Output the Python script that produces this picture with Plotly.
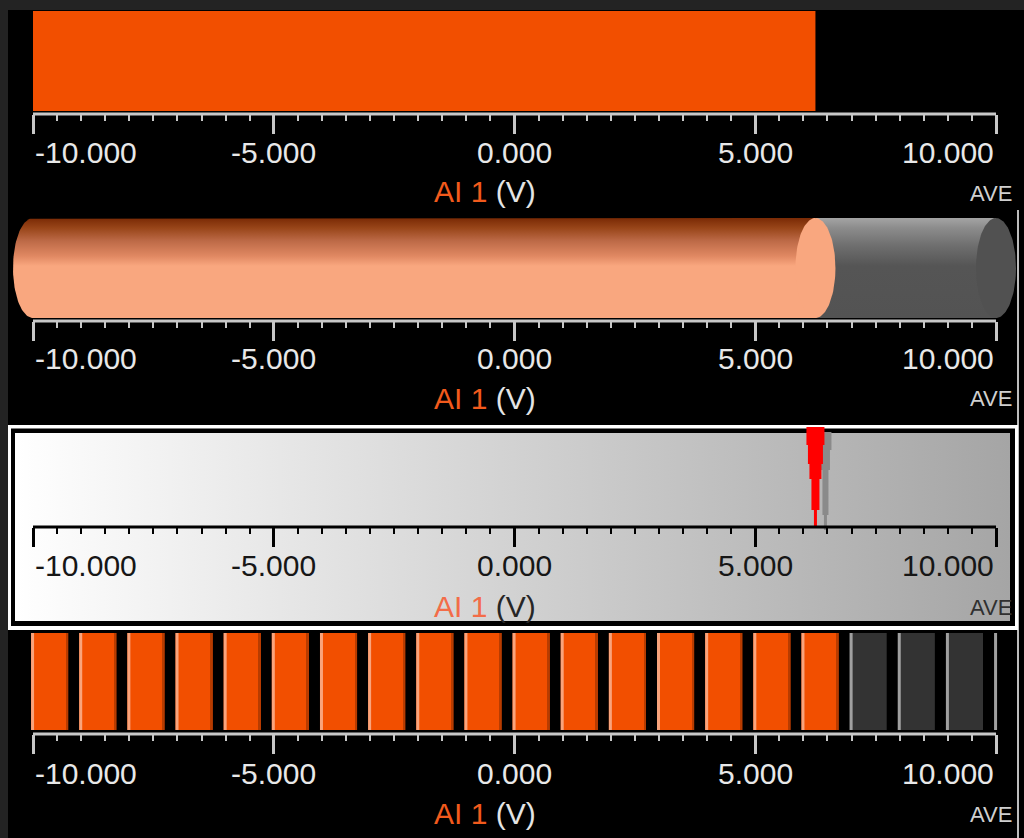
import numpy as np
import plotly.graph_objects as go

# ---------------- data ----------------
value = 6.25                      # AI 1 reading (V)
axis_min, axis_max = -10.0, 10.0
major_ticks = [-10, -5, 0, 5, 10]
tick_labels = ["-10.000", "-5.000", "0.000", "5.000", "10.000"]
minor_ticks = [v / 2 for v in range(-19, 20) if v % 10 != 0]
segment_starts = list(range(-10, 10))          # 20 LED segments, 1 V each
segment_edges = list(range(-10, 11))
channel_name = "AI 1"
unit_label = "(V)"
mode_label = "AVE"

# ---------------- geometry helpers ----------------
W, H = 1024, 838
X0_PX, X1_PX = 33, 996
K = (X1_PX - X0_PX) / (axis_max - axis_min)      # px per volt


def dx(px):
    return axis_min + (px - X0_PX) / K


def fy(py):
    return 1 - py / H


XR = [dx(0), dx(W)]
FONT = "Liberation Sans, Arial, sans-serif"

panels = [
    dict(top=11, bottom=114, axis=114, lab=153, tit=192, dark=True),
    dict(top=218, bottom=318, axis=321, lab=358, tit=398, dark=True),
    dict(top=425, bottom=630, axis=527, lab=565, tit=606, dark=False),
    dict(top=633, bottom=730, axis=734, lab=773, tit=813, dark=True),
]

fig = go.Figure()
layout = dict(width=W, height=H, margin=dict(l=0, r=0, t=0, b=0),
              paper_bgcolor="#000000", plot_bgcolor="rgba(0,0,0,0)",
              showlegend=False, barmode="overlay")
shapes, annotations = [], []

for i, p in enumerate(panels, start=1):
    sx = "" if i == 1 else str(i)
    tcol = "#c8c8c8" if p["dark"] else "#000000"
    layout["xaxis" + sx] = dict(
        domain=[0, 1], range=XR, anchor="free", position=fy(p["axis"]),
        showgrid=False, zeroline=False, showline=False, showticklabels=False,
        tickmode="array", tickvals=major_ticks, ticks="outside",
        ticklen=19, tickwidth=3, tickcolor=tcol,
        minor=dict(tickmode="array", tickvals=minor_ticks, ticks="outside",
                   ticklen=6, tickwidth=2, tickcolor=tcol, showgrid=False),
        fixedrange=True)
    layout["yaxis" + sx] = dict(domain=[fy(p["bottom"]), fy(p["top"])], range=[0, 1],
                                visible=False, anchor="free", position=0, fixedrange=True)
    # axis line from -10 to 10
    shapes.append(dict(type="line", xref="x" + sx, yref="paper",
                       x0=axis_min, x1=axis_max, y0=fy(p["axis"]), y1=fy(p["axis"]),
                       line=dict(color=tcol, width=3), layer="above"))
    lab_col = "#e8e8e8" if p["dark"] else "#161616"
    for v, t in zip(major_ticks, tick_labels):
        anchor = "left" if v == axis_min else ("right" if v == axis_max else "center")
        annotations.append(dict(x=v, xref="x" + sx, y=fy(p["lab"]), yref="paper",
                                text=t, showarrow=False, xanchor=anchor, yanchor="middle",
                                font=dict(family=FONT, size=30, color=lab_col)))
    name_col = "#f25a1c" if p["dark"] else "#f36c48"
    unit_col = "#e4e4e4" if p["dark"] else "#262626"
    annotations.append(dict(x=485 / W, xref="paper", y=fy(p["tit"]), yref="paper",
                            text=f'<span style="color:{name_col}">{channel_name}</span> {unit_label}',
                            showarrow=False, xanchor="center", yanchor="middle",
                            font=dict(family=FONT, size=30, color=unit_col)))
    annotations.append(dict(x=1014 / W, xref="paper", y=fy(p["tit"] + 1), yref="paper",
                            text=mode_label, showarrow=False, xanchor="right", yanchor="middle",
                            font=dict(family=FONT, size=22,
                                      color="#d0d0d0" if p["dark"] else "#303030")))

# frame decorations
shapes += [
    dict(type="rect", xref="paper", yref="paper", x0=0, x1=8 / W, y0=0, y1=1,
         fillcolor="#232323", line=dict(width=0), layer="below"),
    dict(type="rect", xref="paper", yref="paper", x0=0, x1=1, y0=fy(10), y1=1,
         fillcolor="#232323", line=dict(width=0), layer="below"),
    dict(type="rect", xref="paper", yref="paper", x0=1017 / W, x1=1019 / W, y0=0, y1=fy(210),
         fillcolor="#bdbdbd", line=dict(width=0), layer="below"),
    # panel 3 box: white outer border, black inner border
    dict(type="rect", xref="paper", yref="paper", x0=8 / W, x1=1018 / W, y0=fy(630), y1=fy(425),
         fillcolor="#ffffff", line=dict(width=0), layer="below"),
    dict(type="rect", xref="paper", yref="paper", x0=11 / W, x1=1015 / W, y0=fy(626), y1=fy(428.5),
         fillcolor="#000000", line=dict(width=0), layer="below"),
]

# ---------------- panel 1 : flat bar ----------------
fig.add_trace(go.Bar(orientation="h", x=[value - axis_min], base=[axis_min], y=[0.515],
                     width=[0.97], marker=dict(color="#f24f00", line=dict(width=0)),
                     xaxis="x", yaxis="y", hoverinfo="skip"))

# ---------------- panel 2 : cylinder ----------------
rx = 20 / K
t = np.linspace(np.pi / 2, 3 * np.pi / 2, 60)
left_x = list(axis_min + rx * np.cos(t))
left_y = list(0.5 + 0.5 * np.sin(t))
orange_scale = [[0, "#f9a77f"], [0.52, "#f9a77f"], [0.62, "#e08862"], [0.77, "#bd6a47"],
                [0.9, "#984519"], [1, "#7a2a05"]]
gray_scale = [[0, "#535353"], [0.52, "#555555"], [0.72, "#6e6e6e"], [0.9, "#8c8c8c"], [1, "#a4a4a4"]]
nofill_line = dict(width=0, color="rgba(0,0,0,0)")

# gray remainder body
fig.add_trace(go.Scatter(x=[value, axis_max, axis_max, value, value], y=[1, 1, 0, 0, 1],
                         fill="toself", mode="lines", line=nofill_line,
                         fillgradient=dict(type="vertical", colorscale=gray_scale),
                         xaxis="x2", yaxis="y2", hoverinfo="skip"))
# gray end cap
tt = np.linspace(0, 2 * np.pi, 120)
fig.add_trace(go.Scatter(x=list(axis_max + rx * np.cos(tt)), y=list(0.5 + 0.5 * np.sin(tt)),
                         fill="toself", mode="lines", line=nofill_line, fillcolor="#515151",
                         xaxis="x2", yaxis="y2", hoverinfo="skip"))
# orange body with rounded left end
fig.add_trace(go.Scatter(x=[value] + left_x + [value, value], y=[1] + left_y + [0, 1],
                         fill="toself", mode="lines", line=nofill_line,
                         fillgradient=dict(type="vertical", colorscale=orange_scale),
                         xaxis="x2", yaxis="y2", hoverinfo="skip"))
# orange front face at the value
fig.add_trace(go.Scatter(x=list(value + rx * np.cos(tt)), y=list(0.5 + 0.5 * np.sin(tt)),
                         fill="toself", mode="lines", line=nofill_line, fillcolor="#f9a77f",
                         xaxis="x2", yaxis="y2", hoverinfo="skip"))

# ---------------- panel 3 : needle meter ----------------
p3 = panels[2]
h3 = p3["bottom"] - p3["top"]


def py3(py):
    return (p3["bottom"] - py) / h3


bx0, bx1 = dx(15), dx(1010)
by0, by1 = py3(621), py3(433)
fig.add_trace(go.Scatter(x=[bx0, bx1, bx1, bx0, bx0], y=[by0, by0, by1, by1, by0],
                         fill="toself", mode="lines", line=nofill_line,
                         fillgradient=dict(type="horizontal",
                                           colorscale=[[0, "#ffffff"], [1, "#a5a5a5"]]),
                         xaxis="x3", yaxis="y3", hoverinfo="skip"))

needle_profile = [(427, 445, 18), (445, 464, 15), (464, 479, 12), (479, 510, 8), (510, 527, 3)]
shadow_profile = [(432, 450, 12), (450, 470, 9), (470, 515, 6), (515, 530, 3)]


def needle(center, profile):
    xr, yr = [], []
    for (a, b, w) in profile:
        hw = w / 2 / K
        xr += [center + hw, center + hw]
        yr += [py3(a), py3(b)]
    xl, yl = [], []
    for (a, b, w) in reversed(profile):
        hw = w / 2 / K
        xl += [center - hw, center - hw]
        yl += [py3(b), py3(a)]
    return xr + xl + [xr[0]], yr + yl + [yr[0]]


sx_, sy_ = needle(value + 10 / K, shadow_profile)
fig.add_trace(go.Scatter(x=sx_, y=sy_, fill="toself", mode="lines", line=nofill_line,
                         fillcolor="#8a8a8a", xaxis="x3", yaxis="y3", hoverinfo="skip"))
nx_, ny_ = needle(value, needle_profile)
fig.add_trace(go.Scatter(x=nx_, y=ny_, fill="toself", mode="lines", line=nofill_line,
                         fillcolor="#ff0000", xaxis="x3", yaxis="y3", hoverinfo="skip"))

# ---------------- panel 4 : LED segments ----------------
lit = [s < value for s in segment_starts]
seg_colors = ["#f24f00" if l else "#333333" for l in lit]
fig.add_trace(go.Bar(x=segment_starts, y=[1] * len(segment_starts), offset=-0.04, width=0.77,
                     marker=dict(color=seg_colors, line=dict(width=0)),
                     xaxis="x4", yaxis="y4", hoverinfo="skip"))
# dark right edge on lit segments
fig.add_trace(go.Bar(x=[s for s, l in zip(segment_starts, lit) if l],
                     y=[1] * sum(lit), offset=0.69, width=0.04,
                     marker=dict(color="#b83c00", line=dict(width=0)),
                     xaxis="x4", yaxis="y4", hoverinfo="skip"))
# light left edges at every segment boundary
edge_colors = ["#f9a47c" if (e < value) else "#a0a0a0" for e in segment_edges]
fig.add_trace(go.Bar(x=segment_edges, y=[1] * len(segment_edges), offset=-0.04, width=3 / K,
                     marker=dict(color=edge_colors, line=dict(width=0)),
                     xaxis="x4", yaxis="y4", hoverinfo="skip"))

layout["shapes"] = shapes
layout["annotations"] = annotations
fig.update_layout(**layout)
fig.write_html("out.html",
               config={"displayModeBar": False},
               post_script="document.body.style.margin='0';"
                           "document.body.style.overflow='hidden';"
                           "document.body.style.background='#000';")
